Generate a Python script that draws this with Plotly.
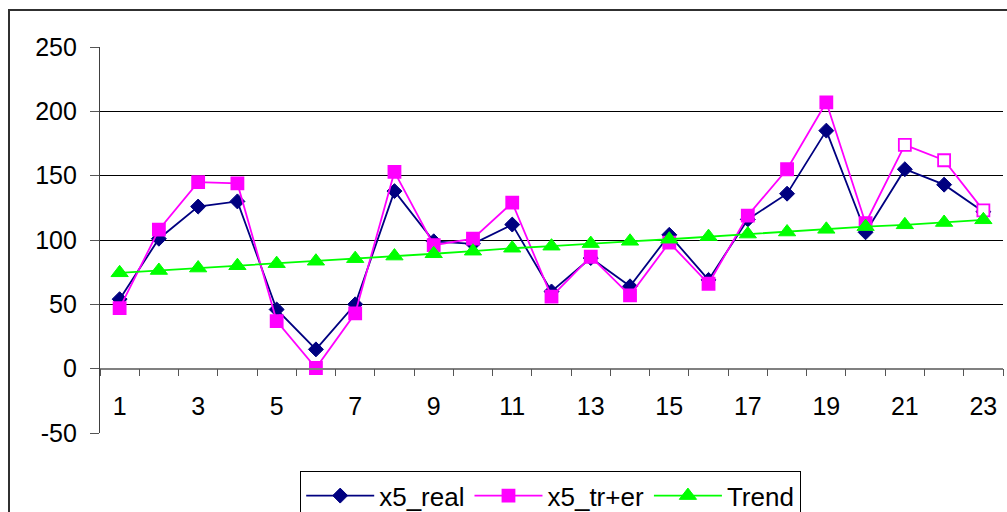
import plotly.graph_objects as go

periods = list(range(1, 24))
x5_real = [54, 101, 126, 130, 46, 15, 50, 138, 99, 97, 112, 60, 86, 64, 104, 69,
           116, 136, 185, 106, 155, 143, 122]
x5_tr_er = [47, 108, 145, 144, 37, 0.5, 43, 153, 96, 101, 129, 56, 87, 57, 98, 66,
            119, 155, 207, 113, 174, 162, 123]
trend = [74.5, 76.3, 78.2, 80, 81.6, 83.5, 85.5, 87.5, 89.3, 91.3, 93.6, 95.2, 97.2,
         99, 100.6, 102.6, 104.6, 106.2, 108.3, 110.4, 111.8, 113.6, 115.7]
# points of x5_tr+er drawn with open markers
x5_tr_er_open = [False] * 20 + [True] * 3
x_tick_vals = [p for p in periods if p % 2 == 1]
x_tick_labels = [str(p) for p in x_tick_vals]
y_tick_vals = [-50, 0, 50, 100, 150, 200, 250]
y_tick_labels = ["-50", "0", "50", "100", "150", "200", "250"]

FONT = "Liberation Sans, Arial, sans-serif"
FS = 25

fig = go.Figure()
fig.add_trace(go.Scatter(
    x=periods, y=x5_real, name="x5_real", mode="lines+markers",
    line=dict(color="#000080", width=1.8),
    marker=dict(symbol="diamond", size=11.5, color="#000080",
                line=dict(color="#000080", width=1)),
))
fig.add_trace(go.Scatter(
    x=periods, y=x5_tr_er, name="x5_tr+er", mode="lines+markers",
    line=dict(color="#FF00FF", width=1.8),
    marker=dict(symbol="square", size=12,
                color=["#FFFFFF" if o else "#FF00FF" for o in x5_tr_er_open],
                line=dict(color="#FF00FF", width=1.8)),
))
fig.add_trace(go.Scatter(
    x=periods, y=trend, name="Trend", mode="lines+markers",
    line=dict(color="#00FF00", width=1.8),
    marker=dict(symbol="triangle-up", size=15, color="#00FF00",
                line=dict(color="#00FF00", width=1)),
))

# position of the y=0 line in paper coordinates (-50..250)
zero_pos = (0 - (-50)) / (250 - (-50))

fig.update_layout(
    width=1007, height=512,
    margin=dict(l=100, r=4, t=47, b=79, autoexpand=False),
    paper_bgcolor="white", plot_bgcolor="white",
    font=dict(family=FONT, size=FS, color="black"),
    showlegend=True,
    legend=dict(
        orientation="h", x=(300 - 100) / 903, xanchor="left",
        y=(433 - 471) / 386, yanchor="top",
        bordercolor="black", borderwidth=1.2, bgcolor="white",
        font=dict(family=FONT, size=26, color="black"),
        itemwidth=68, tracegroupgap=0,
    ),
    xaxis=dict(
        range=[0.5, 23.5], anchor="free", position=zero_pos,
        tickmode="array", tickvals=x_tick_vals, ticktext=x_tick_labels,
        ticks="outside", ticklen=0, ticklabelstandoff=16,
        minor=dict(tickmode="linear", tick0=0.5, dtick=1, ticks="outside",
                   ticklen=7, tickcolor="#555555", tickwidth=1, showgrid=False),
        showgrid=False, zeroline=False, automargin=False,
        showline=True, linecolor="#808080", linewidth=1.5,
        tickfont=dict(family=FONT, size=FS, color="black"),
    ),
    yaxis=dict(
        range=[-50, 250], tickmode="array", tickvals=y_tick_vals,
        ticktext=y_tick_labels,
        ticks="outside", ticklen=9, tickcolor="#555555", tickwidth=1,
        showgrid=True, gridcolor="#000000", gridwidth=1,
        zeroline=False, showline=True, linecolor="#404040", linewidth=1.2,
        tickfont=dict(family=FONT, size=FS, color="black"),
        ticklabelstandoff=8, automargin=False,
    ),
    shapes=[dict(
        type="rect", xref="paper", yref="paper",
        x0=(9 - 100) / 903, x1=(1015 - 100) / 903,
        y0=(433 - 520) / 386, y1=(433 - 10) / 386,
        line=dict(color="#303030", width=2), fillcolor="rgba(0,0,0,0)",
        layer="below",
    )],
)

fig.write_html(
    "out.html",
    config={"displayModeBar": False},
    post_script="document.body.style.margin='0';document.body.style.padding='0';",
)
